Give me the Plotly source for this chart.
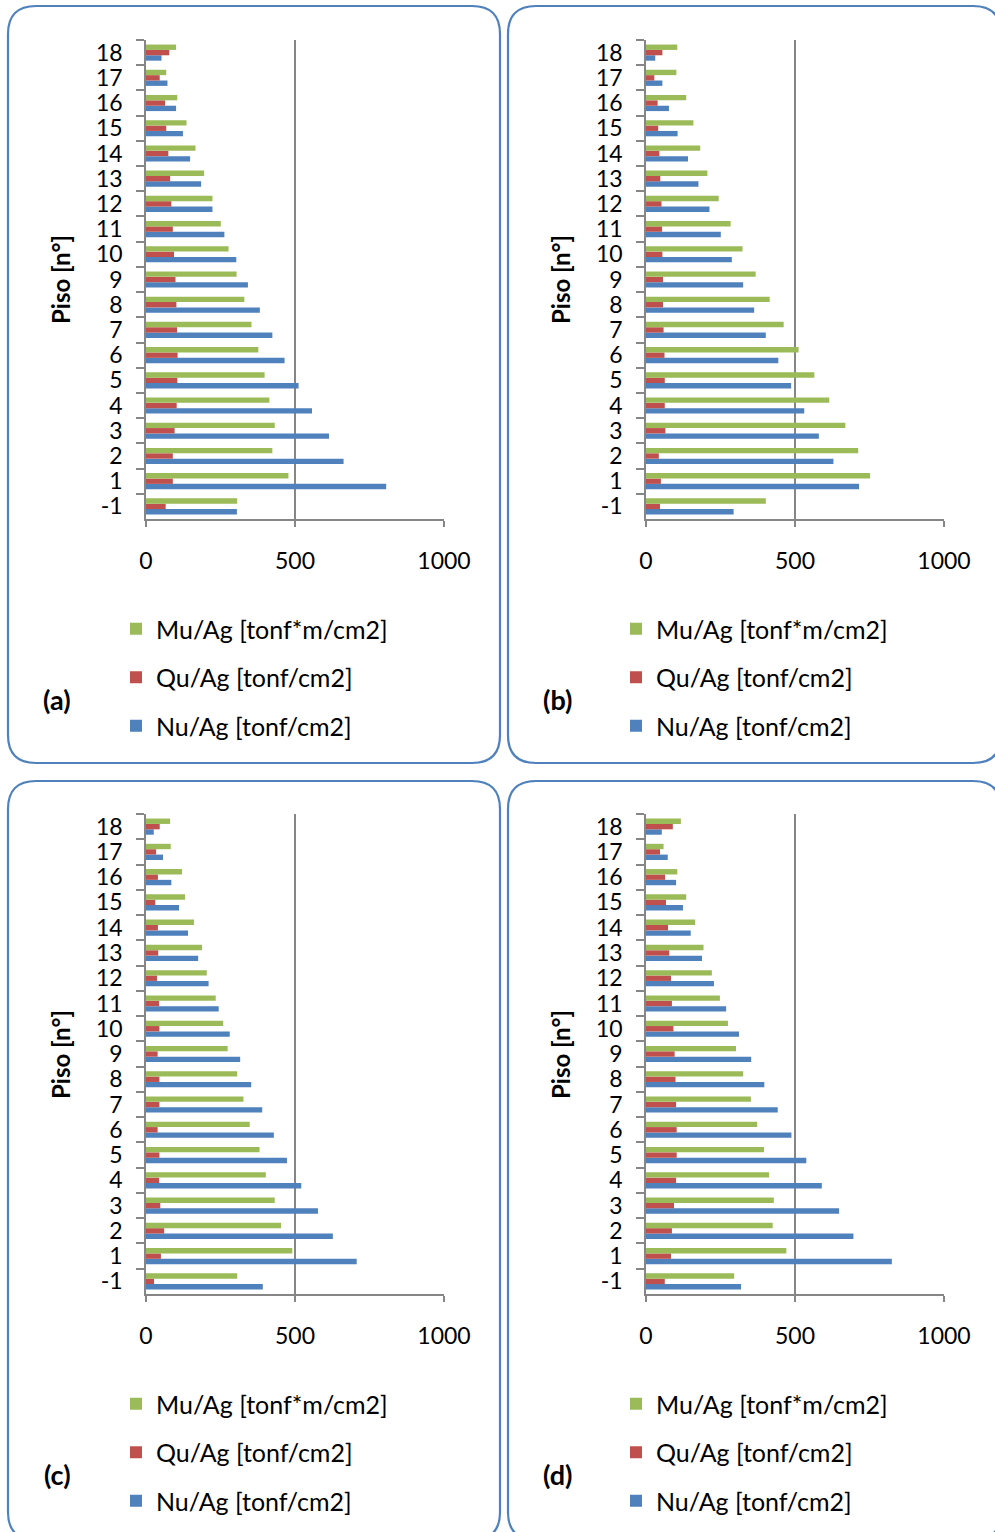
import plotly.graph_objects as go

W, H = 995, 1532

floors = ['-1', '1', '2', '3', '4', '5', '6', '7', '8', '9', '10',
          '11', '12', '13', '14', '15', '16', '17', '18']

# Panel (a)
a_mu = [306, 478, 424, 432, 414, 398, 377, 354, 330, 304, 277, 251, 223, 195, 166, 136, 105, 68, 101]
a_qu = [66, 90, 90, 96, 103, 105, 106, 104, 102, 99, 94, 90, 85, 81, 75, 68, 64, 46, 78]
a_nu = [305, 806, 663, 614, 557, 512, 465, 424, 382, 342, 303, 263, 223, 185, 148, 124, 101, 72, 52]

# Panel (b)
b_mu = [402, 752, 712, 669, 615, 565, 512, 462, 415, 368, 324, 284, 244, 206, 182, 159, 135, 102, 105]
b_qu = [47, 50, 43, 65, 63, 63, 62, 59, 57, 57, 55, 54, 52, 48, 45, 41, 39, 28, 55]
b_nu = [294, 715, 629, 580, 531, 487, 444, 402, 363, 326, 288, 251, 213, 176, 141, 106, 77, 55, 31]

# Panel (c)
c_mu = [306, 491, 453, 432, 402, 381, 348, 327, 306, 274, 259, 234, 204, 188, 161, 131, 121, 83, 81]
c_qu = [27, 50, 61, 48, 44, 45, 39, 45, 45, 39, 45, 44, 37, 41, 40, 31, 40, 34, 46]
c_nu = [392, 707, 627, 577, 521, 473, 429, 390, 353, 316, 281, 244, 210, 175, 141, 111, 85, 57, 26]

# Panel (d)
d_mu = [296, 471, 425, 429, 413, 396, 373, 352, 326, 302, 275, 248, 221, 193, 165, 135, 105, 59, 117]
d_qu = [63, 84, 87, 94, 101, 103, 103, 101, 99, 96, 92, 87, 84, 78, 74, 67, 64, 47, 90]
d_nu = [319, 825, 696, 648, 590, 538, 488, 442, 397, 353, 312, 269, 228, 188, 150, 124, 101, 73, 53]

series_names = ['Nu/Ag [tonf/cm2]', 'Qu/Ag [tonf/cm2]', 'Mu/Ag [tonf*m/cm2]']
series_colors = ['#4F81BD', '#C0504D', '#9BBB59']
legend_ranks = [3, 2, 1]
x_ticks = [0, 500, 1000]
panel_labels = ['(a)', '(b)', '(c)', '(d)']
y_title = 'Piso [n°]'

panels = [
    (a_nu, a_qu, a_mu),
    (b_nu, b_qu, b_mu),
    (c_nu, c_qu, c_mu),
    (d_nu, d_qu, d_mu),
]

FONT = 'Lato'
GREY = '#868686'
BOXC = '#4F81BD'


def px(x):
    return x / W


def py(y):
    return 1 - y / H


# layout geometry in pixels (left, right, top, bottom)
plot_boxes = [
    (146, 444, 40, 519),
    (646, 944, 40, 519),
    (146, 444, 814, 1294),
    (646, 944, 814, 1294),
]
frame_boxes = [
    (8, 500, 6, 763),
    (508, 1001, 6, 763),
    (8, 500, 781, 1540),
    (508, 1001, 781, 1540),
]
offsets = [(0, 0), (500, 0), (0, 775), (500, 775)]

fig = go.Figure()
layout = dict(
    width=W, height=H, autosize=False,
    margin=dict(l=0, r=0, t=0, b=0, autoexpand=False),
    paper_bgcolor='white', plot_bgcolor='white',
    barmode='group', bargap=0.36, bargroupgap=0,
    font=dict(family=FONT, size=23, color='#000000'),
    shapes=[], annotations=[],
)

for i, vals in enumerate(panels):
    n = '' if i == 0 else str(i + 1)
    xa = 'x' + n
    ya = 'y' + n
    leg = 'legend' + n
    for j in range(3):
        fig.add_trace(go.Bar(
            y=floors, x=vals[j], orientation='h',
            name=series_names[j], marker=dict(color=series_colors[j], line=dict(width=0)),
            xaxis=xa, yaxis=ya, legend=leg, legendgroup='g%d_%d' % (i, j),
            legendrank=legend_ranks[j],
            hoverinfo='x+y+name',
        ))
    l, r, t, b = plot_boxes[i]
    layout['xaxis' + n] = dict(
        domain=[px(l), px(r)], anchor=ya, range=[0, 1000],
        tickvals=x_ticks, ticks='outside', ticklen=6, tickcolor=GREY, tickwidth=1.5,
        showgrid=True, gridcolor=GREY, gridwidth=1.5,
        showline=True, linecolor=GREY, linewidth=1.5, zeroline=False,
        tickfont=dict(size=23, family=FONT), ticklabelstandoff=15,
    )
    layout['yaxis' + n] = dict(
        domain=[py(b), py(t)], anchor=xa, type='category',
        categoryorder='array', categoryarray=floors,
        tickmode='linear', tick0=0, dtick=1,
        tickson='boundaries', ticks='outside', ticklen=8, tickcolor=GREY, tickwidth=1.5,
        showline=True, linecolor=GREY, linewidth=1.5, showgrid=False, zeroline=False,
        tickfont=dict(size=23, family=FONT), ticklabelstandoff=17,
    )
    ox, oy = offsets[i]
    layout[leg] = dict(
        x=px(116 + ox), y=py(606 + oy), xanchor='left', yanchor='top',
        traceorder='grouped', tracegroupgap=13,
        font=dict(size=25, family=FONT), bgcolor='rgba(0,0,0,0)',
        itemclick=False, itemdoubleclick=False,
    )
    layout['annotations'].append(dict(
        x=px(60 + ox), y=py(280 + oy), xref='paper', yref='paper',
        text='<b>' + y_title + '</b>', textangle=-90, showarrow=False,
        font=dict(size=24, family=FONT), xanchor='center', yanchor='middle',
    ))
    layout['annotations'].append(dict(
        x=px(57 + ox), y=py(699 + oy), xref='paper', yref='paper',
        text='<b>' + panel_labels[i] + '</b>', showarrow=False,
        font=dict(size=27, family=FONT), xanchor='center', yanchor='middle',
    ))
    x0, x1, y0, y1 = frame_boxes[i]
    rr = 28
    pts = [
        ('M', [(x0 + rr, y0)]), ('L', [(x1 - rr, y0)]), ('Q', [(x1, y0), (x1, y0 + rr)]),
        ('L', [(x1, y1 - rr)]), ('Q', [(x1, y1), (x1 - rr, y1)]),
        ('L', [(x0 + rr, y1)]), ('Q', [(x0, y1), (x0, y1 - rr)]),
        ('L', [(x0, y0 + rr)]), ('Q', [(x0, y0), (x0 + rr, y0)]),
    ]
    path = ''
    for cmd, ps in pts:
        path += cmd + ' ' + ' '.join('%.6f,%.6f' % (px(a), py(c)) for a, c in ps) + ' '
    path += 'Z'
    layout['shapes'].append(dict(
        type='path', path=path, xref='paper', yref='paper',
        line=dict(color=BOXC, width=2.2), fillcolor='rgba(0,0,0,0)', layer='below',
    ))

fig.update_layout(**layout)
fig.write_html('out.html', config={'responsive': False})
